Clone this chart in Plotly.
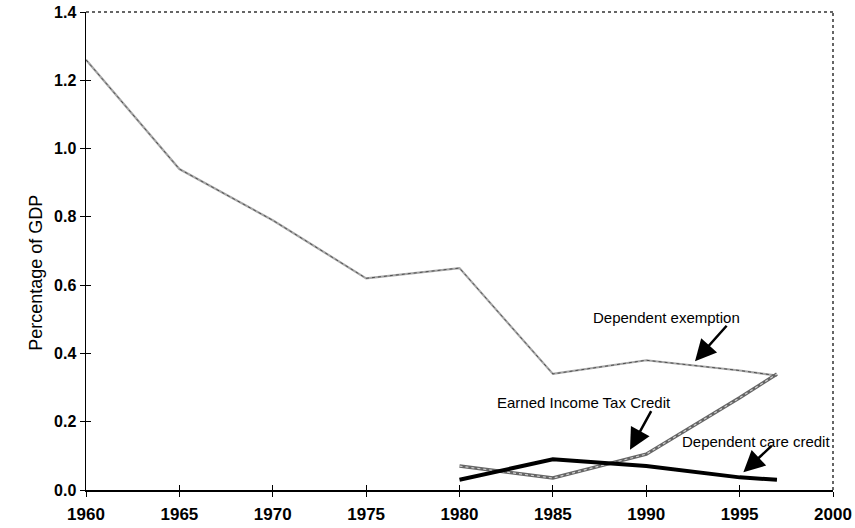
import plotly.graph_objects as go

# ---- data ----
dep_exempt_years = [1960, 1965, 1970, 1975, 1980, 1985, 1990, 1995, 1997]
dep_exempt_vals = [1.26, 0.94, 0.79, 0.62, 0.65, 0.34, 0.38, 0.35, 0.335]

eitc_years = [1980, 1985, 1990, 1995, 1997]
eitc_vals = [0.07, 0.035, 0.105, 0.27, 0.34]

dep_care_years = [1980, 1985, 1990, 1995, 1997]
dep_care_vals = [0.03, 0.09, 0.07, 0.037, 0.03]

x_ticks = list(range(1960, 2001, 5))
y_ticks = [0.0, 0.2, 0.4, 0.6, 0.8, 1.0, 1.2, 1.4]

FONT = "Liberation Sans, Arial, Helvetica, sans-serif"

fig = go.Figure()

# Dependent exemption: thin grey textured line
fig.add_trace(go.Scatter(x=dep_exempt_years, y=dep_exempt_vals, mode="lines",
                         line=dict(color="#a8a8a8", width=2.2), showlegend=False))
fig.add_trace(go.Scatter(x=dep_exempt_years, y=dep_exempt_vals, mode="lines",
                         line=dict(color="#505050", width=1, dash="dot"), showlegend=False))

# Earned Income Tax Credit: thicker rope-like grey line
fig.add_trace(go.Scatter(x=eitc_years, y=eitc_vals, mode="lines",
                         line=dict(color="#666666", width=3.5), showlegend=False))
fig.add_trace(go.Scatter(x=eitc_years, y=eitc_vals, mode="lines",
                         line=dict(color="#d0d0d0", width=1.2, dash="dot"), showlegend=False))

# Dependent care credit: heavy black line
fig.add_trace(go.Scatter(x=dep_care_years, y=dep_care_vals, mode="lines",
                         line=dict(color="black", width=4), showlegend=False))

# dummy trace for overlay axes (inside ticks)
fig.add_trace(go.Scatter(x=[], y=[], xaxis="x2", yaxis="y2", showlegend=False, hoverinfo="skip"))

axis_common = dict(showgrid=False, zeroline=False, automargin=False)

fig.update_layout(
    width=855, height=528,
    margin=dict(l=86, r=22, t=12, b=38),
    paper_bgcolor="white", plot_bgcolor="white",
    xaxis=dict(range=[1960, 2000], tickvals=x_ticks, ticks="outside", ticklen=5,
               tickwidth=1, tickcolor="black", showline=True, linecolor="black", linewidth=1.5,
               tickfont=dict(family=FONT, size=17, color="black", weight="bold"),
               ticklabelstandoff=3, ticklabeloverflow="allow", **axis_common),
    yaxis=dict(range=[0, 1.4], tickvals=y_ticks, tickformat=".1f", ticks="outside", ticklen=5,
               tickwidth=1, tickcolor="black", showline=True, linecolor="black", linewidth=1.5,
               tickfont=dict(family=FONT, size=16, color="black", weight="bold"),
               ticklabeloverflow="allow", **axis_common),
    xaxis2=dict(range=[1960, 2000], tickvals=x_ticks, ticks="inside", ticklen=5, tickwidth=1,
                tickcolor="black", showticklabels=False, overlaying="x", anchor="y2",
                side="bottom", showline=False, **axis_common),
    yaxis2=dict(range=[0, 1.4], tickvals=y_ticks, ticks="inside", ticklen=5, tickwidth=1,
                tickcolor="black", showticklabels=False, overlaying="y", anchor="x2",
                side="left", showline=False, **axis_common),
    shapes=[
        dict(type="line", xref="paper", yref="paper", x0=0, x1=1, y0=1, y1=1,
             line=dict(color="#333333", width=1.5, dash="dot")),
        dict(type="line", xref="paper", yref="paper", x0=1, x1=1, y0=0, y1=1,
             line=dict(color="#333333", width=1.5, dash="dot")),
    ],
    annotations=[
        dict(text="Percentage of GDP", xref="paper", yref="paper", x=(36 - 86) / 747,
             y=0.4545, xanchor="center", yanchor="middle", textangle=-90, showarrow=False,
             font=dict(family=FONT, size=18, color="black")),
        # labels
        dict(text="Dependent exemption", x=1991.11, y=0.504, showarrow=False,
             font=dict(family=FONT, size=15, color="black")),
        dict(text="Earned Income Tax Credit", x=1986.69, y=0.257, showarrow=False,
             font=dict(family=FONT, size=15, color="black")),
        dict(text="Dependent care credit", x=1995.87, y=0.142, showarrow=False,
             font=dict(family=FONT, size=15, color="black")),
        # arrows
        dict(text="", x=1992.61, y=0.377, ax=33, ay=-37, showarrow=True,
             arrowhead=2, arrowsize=1.7, arrowwidth=2.5, arrowcolor="black"),
        dict(text="", x=1989.13, y=0.118, ax=22, ay=-40, showarrow=True,
             arrowhead=2, arrowsize=1.7, arrowwidth=2.5, arrowcolor="black"),
        dict(text="", x=1995.2, y=0.052, ax=30, ay=-28, showarrow=True,
             arrowhead=2, arrowsize=1.7, arrowwidth=2.5, arrowcolor="black"),
    ],
)

# remove the browser's default 8px body margin so the figure sits at the window origin
fig.write_html("out.html",
               config={"displayModeBar": False, "staticPlot": True},
               post_script="document.body.style.margin='0';document.body.style.overflow='hidden';")
